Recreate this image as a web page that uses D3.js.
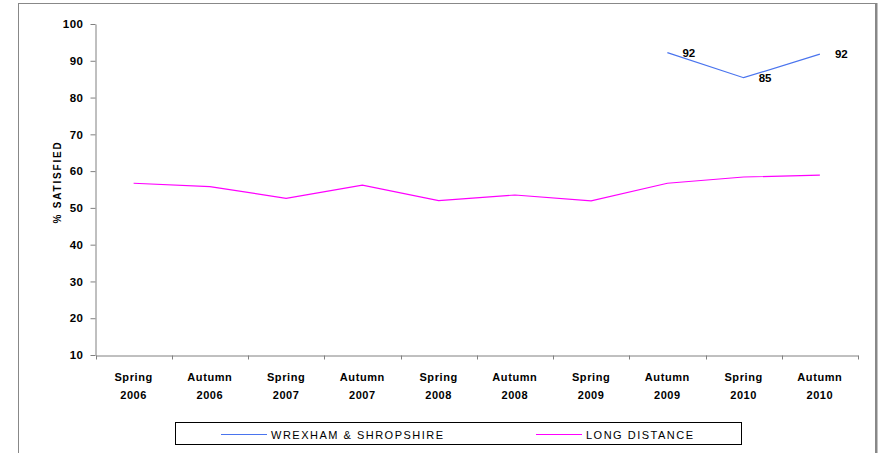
<!DOCTYPE html>
<html><head><meta charset="utf-8">
<script src="https://cdn.jsdelivr.net/npm/d3@7"></script>
<style>body{margin:0;background:#fff}svg{display:block}text{font-family:"Liberation Sans",Arial,sans-serif}</style>
</head><body>
<svg id="c" width="880" height="453"></svg>
<script>
const categories = [["Spring","2006"],["Autumn","2006"],["Spring","2007"],["Autumn","2007"],["Spring","2008"],["Autumn","2008"],["Spring","2009"],["Autumn","2009"],["Spring","2010"],["Autumn","2010"]];
const catKeys = categories.map(c => c.join(" "));
const wrexham = [null,null,null,null,null,null,null,92.2,85.4,91.8];
const wrexhamLabels = [null,null,null,null,null,null,null,"92","85","92"];
const longDistance = [56.7,55.8,52.6,56.2,52.0,53.5,51.9,56.7,58.4,58.9];
const yTicks = [10,20,30,40,50,60,70,80,90,100];
const seriesNames = ["WREXHAM & SHROPSHIRE","LONG DISTANCE"];
const colors = ["#4a74ee","#ff00ff"];

const svg = d3.select("#c");
svg.append("rect").attr("x",18.5).attr("y",3.5).attr("width",857).attr("height",460).attr("fill","#fff").attr("stroke","#888").attr("stroke-width",1);
svg.append("line").attr("x1",876.5).attr("x2",876.5).attr("y1",3).attr("y2",453).attr("stroke","#888").attr("stroke-width",2);

const x = d3.scaleBand().domain(catKeys).range([95.5,858]);
const y = d3.scaleLinear().domain([10,100]).range([355,24]);

const axisColor = "#808080";
const ya = svg.append("g").attr("transform","translate(95.5,0)")
  .call(d3.axisLeft(y).tickValues(yTicks).tickSize(5).tickSizeOuter(0).tickPadding(7));
ya.select(".domain").attr("stroke",axisColor);
ya.selectAll(".tick line").attr("stroke",axisColor);
ya.selectAll(".tick text").attr("font-size",11.5).attr("font-weight","bold").attr("fill","#000").attr("letter-spacing","0.5px");

const xa = svg.append("g").attr("transform","translate(0,355.5)")
  .call(d3.axisBottom(x).tickSize(0).tickFormat(""));
xa.select(".domain").attr("stroke",axisColor);
xa.selectAll(".tick").remove();
const bounds = catKeys.map(k => x(k)).concat([x.range()[1]]);
xa.selectAll("line.bt").data(bounds).enter().append("line")
  .attr("x1",d=>Math.round(d)+0.5).attr("x2",d=>Math.round(d)+0.5).attr("y1",0).attr("y2",4).attr("stroke",axisColor);
const xl = svg.append("g");
categories.forEach((c,i)=>{
  const cx = x(catKeys[i]) + x.bandwidth()/2;
  const t = xl.append("text").attr("x",cx).attr("text-anchor","middle").attr("font-size",11).attr("font-weight","bold").attr("letter-spacing","0.6px");
  t.append("tspan").attr("x",cx).attr("y",381).text(c[0]);
  t.append("tspan").attr("x",cx).attr("y",399).text(c[1]);
});

svg.append("text").attr("transform","translate(61,182) rotate(-90)").attr("text-anchor","middle")
  .attr("font-size",10).attr("font-weight","bold").attr("letter-spacing","1.8px").attr("font-family","DejaVu Sans Mono, monospace").text("% SATISFIED");

const cx = (d,i) => x(catKeys[i]) + x.bandwidth()/2;
const line = d3.line().defined(d=>d!=null).x((d,i)=>cx(d,i)).y(d=>y(d));
svg.append("path").datum(longDistance).attr("d",line).attr("fill","none").attr("stroke",colors[1]).attr("stroke-width",1.2);
svg.append("path").datum(wrexham).attr("d",line).attr("fill","none").attr("stroke",colors[0]).attr("stroke-width",1.2);

svg.append("g").selectAll("text").data(wrexham.map((v,i)=>({v,i})).filter(d=>d.v!=null)).enter().append("text")
  .attr("x",d=>cx(d.v,d.i)+15).attr("y",d=>y(d.v)+4).attr("font-size",11.5).attr("font-weight","bold").attr("fill","#000")
  .text(d=>wrexhamLabels[d.i]);

const lg = svg.append("g");
lg.append("rect").attr("x",175.5).attr("y",422.5).attr("width",566).attr("height",22).attr("fill","#fff").attr("stroke","#000").attr("stroke-width",1);
const lgPos = [221,536];
seriesNames.forEach((n,i)=>{
  lg.append("line").attr("x1",lgPos[i]).attr("x2",lgPos[i]+46).attr("y1",434.5).attr("y2",434.5).attr("stroke",colors[i]).attr("stroke-width",1.2);
  lg.append("text").attr("x",lgPos[i]+50).attr("y",438.5).attr("font-size",11).attr("letter-spacing","1.5px").attr("fill","#000").text(n);
});
</script>
</body></html>
